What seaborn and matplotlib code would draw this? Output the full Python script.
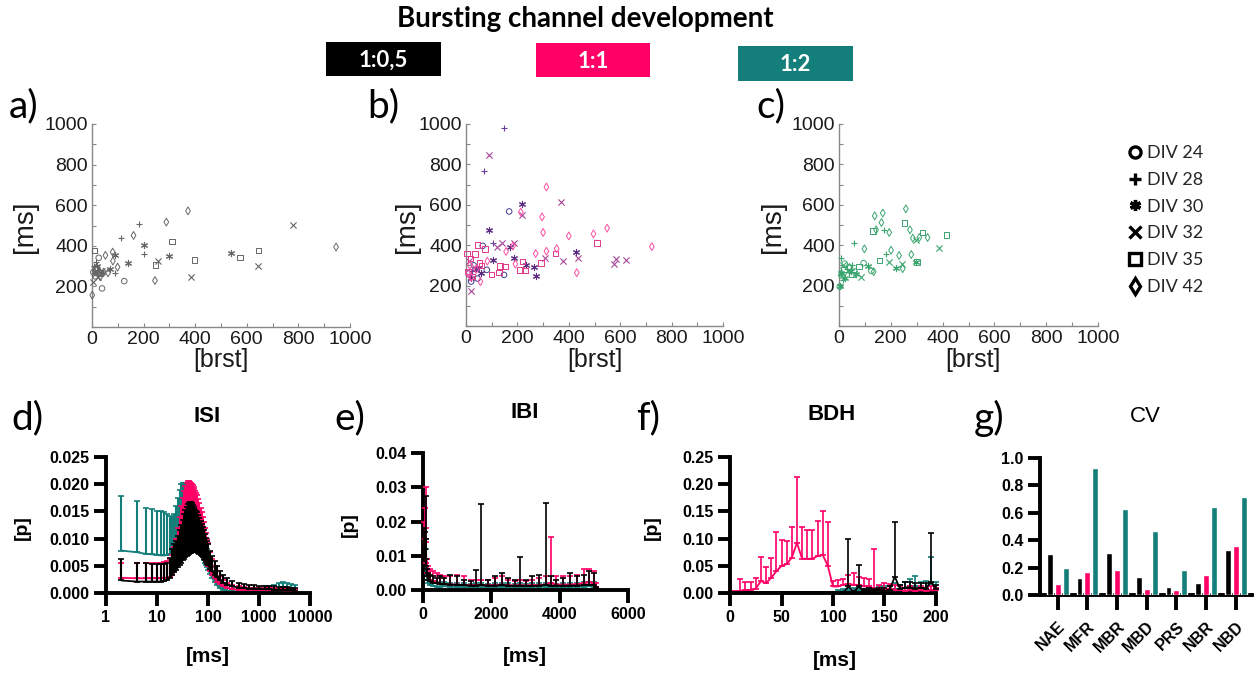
import numpy as np
import pandas as pd
import matplotlib
matplotlib.use("Agg")
import matplotlib.pyplot as plt
import seaborn as sns
from matplotlib.lines import Line2D
from matplotlib.patches import Rectangle
from matplotlib.ticker import MultipleLocator, NullLocator

# ------------------------------------------------------------------ data
div_labels = ["DIV 24", "DIV 28", "DIV 30", "DIV 32", "DIV 35", "DIV 42"]
ratios = ["1:0,5", "1:1", "1:2"]

# panel a (1:0,5) burst count vs burst duration
a24_x = [26, 39, 125, 5, 12, 18, 30]
a24_y = [341, 190, 226, 270, 250, 290, 262]
a28_x = [181, 112, 200, 90, 8, 15, 22]
a28_y = [507, 440, 362, 267, 300, 320, 280]
a30_x = [203, 90, 68, 139, 297, 539, 10, 20, 35]
a30_y = [404, 357, 288, 316, 351, 366, 270, 300, 268]
a32_x = [778, 643, 383, 255, 5, 12, 25, 40]
a32_y = [502, 300, 244, 323, 220, 260, 245, 275]
a35_x = [10, 311, 397, 574, 645, 246, 30, 15]
a35_y = [377, 422, 331, 343, 377, 305, 265, 285]
a42_x = [372, 288, 161, 52, 80, 81, 99, 62, 244, 946, 1, 32, 45]
a42_y = [572, 517, 451, 353, 369, 325, 295, 267, 229, 394, 157, 247, 270]

# panel b (1:1)
b24_x = [168, 65, 148, 81, 30, 45, 20, 10]
b24_y = [567, 397, 253, 278, 300, 235, 220, 260]
b28_x = [149, 70, 106, 50, 25, 12]
b28_y = [980, 765, 413, 290, 270, 250]
b30_x = [218, 88, 271, 265, 234, 427, 171, 187, 106, 40, 60, 20]
b30_y = [603, 476, 250, 291, 304, 364, 393, 336, 327, 280, 260, 240]
b32_x = [90, 371, 218, 379, 434, 308, 584, 574, 623, 139, 186, 21, 119, 30, 10]
b32_y = [845, 613, 550, 324, 336, 336, 331, 307, 326, 410, 413, 175, 393, 290, 320]
b35_x = [44, 73, 3, 35, 510, 349, 292, 219, 229, 211, 132, 151, 52, 18, 100, 129, 8, 25, 60]
b35_y = [402, 380, 360, 357, 410, 359, 311, 319, 274, 278, 298, 294, 311, 334, 255, 264, 269, 245, 300]
b42_x = [313, 296, 213, 300, 400, 496, 549, 723, 353, 313, 271, 431, 183, 192, 156, 56, 83, 8, 20, 40, 15]
b42_y = [688, 540, 564, 463, 446, 456, 484, 393, 383, 370, 359, 264, 397, 307, 369, 220, 321, 261, 240, 280, 300]

# panel c (1:2)
c24_x = [95, 125, 22, 3, 40, 60, 10]
c24_y = [311, 273, 309, 195, 290, 270, 250]
c28_x = [59, 175, 183, 6, 30, 15, 50]
c28_y = [413, 476, 354, 336, 280, 230, 300]
c30_x = [219, 297, 67, 112, 8, 25, 45, 3]
c30_y = [286, 317, 258, 298, 260, 240, 270, 200]
c32_x = [385, 297, 243, 194, 85, 35, 15]
c32_y = [388, 426, 307, 316, 241, 270, 300]
c35_x = [253, 323, 415, 132, 157, 77, 302, 20, 50]
c35_y = [511, 463, 450, 469, 324, 294, 317, 280, 255]
c42_x = [138, 169, 164, 258, 274, 310, 285, 342, 194, 98, 201, 232, 279, 246, 134, 143, 10, 40]
c42_y = [545, 559, 512, 580, 476, 438, 435, 438, 463, 382, 375, 349, 354, 284, 269, 476, 260, 290]

# panel d: ISI histogram (mean and upper end of error bar)
isi_x = [2, 4, 6, 8, 10, 12, 14, 16, 18, 20,
         22, 24, 26, 28, 30, 32, 34, 36, 38, 40, 42, 44, 46, 48, 50, 52, 54, 56, 58, 60,
         64, 68, 72, 76, 80, 84, 88, 92, 96, 100,
         110, 120, 135, 150, 170, 200, 240, 300, 400, 500, 650, 800, 1000, 1300, 1600,
         2000, 2500, 3000, 3600, 4200, 5000]
isi_teal_mean = [.0078, .0075, .0072, .0071, .0070, .0069, .0069, .0070, .0072, .0076,
                 .0082, .0088, .0095, .0102, .0108, .0113, .0117, .0120, .0122, .0123, .0123, .0122, .0120, .0118, .0115, .0112, .0108, .0104, .0100, .0096,
                 .0090, .0084, .0078, .0072, .0066, .0061, .0056, .0051, .0047, .0043,
                 .0035, .0028, .0020, .0014, .0009, .0006, .0004, .0003, .0003, .0003, .0004, .0004, .0005, .0005, .0006,
                 .0007, .0009, .0010, .0010, .0009, .0007]
isi_teal_upper = [.0178, .0170, .0157, .0155, .0151, .0150, .0149, .0146, .0142, .0140,
                  .0145, .0160, .0175, .0190, .0200, .0203, .0203, .0202, .0201, .0200, .0198, .0196, .0193, .0190, .0187, .0183, .0179, .0175, .0170, .0165,
                  .0155, .0145, .0135, .0125, .0115, .0105, .0095, .0087, .0080, .0073,
                  .0060, .0048, .0036, .0026, .0018, .0012, .0009, .0008, .0008, .0009, .0010, .0010, .0011, .0012, .0013,
                  .0015, .0018, .0020, .0019, .0017, .0014]
isi_pink_mean = [.0028, .0027, .0027, .0027, .0027, .0027, .0028, .0028, .0030, .0034,
                 .0040, .0047, .0055, .0063, .0070, .0077, .0084, .0090, .0096, .0101, .0105, .0108, .0110, .0111, .0112, .0112, .0111, .0110, .0108, .0106,
                 .0101, .0096, .0090, .0084, .0078, .0072, .0066, .0060, .0055, .0050,
                 .0041, .0034, .0027, .0021, .0016, .0012, .0009, .0007, .0006, .0006, .0006, .0006, .0006, .0006, .0006,
                 .0006, .0006, .0005, .0005, .0005, .0004]
isi_pink_upper = [.0055, .0055, .0056, .0056, .0056, .0056, .0057, .0058, .0062, .0070,
                  .0085, .0100, .0120, .0140, .0160, .0175, .0188, .0197, .0203, .0205, .0205, .0204, .0202, .0200, .0198, .0195, .0192, .0188, .0184, .0180,
                  .0172, .0165, .0157, .0148, .0140, .0130, .0120, .0110, .0100, .0092,
                  .0075, .0062, .0050, .0040, .0031, .0024, .0019, .0015, .0012, .0011, .0010, .0010, .0010, .0010, .0010,
                  .0010, .0010, .0009, .0009, .0009, .0008]
isi_black_mean = [.0023, .0021, .0021, .0021, .0021, .0021, .0022, .0024, .0028, .0033,
                  .0038, .0043, .0048, .0052, .0056, .0060, .0063, .0066, .0068, .0070, .0072, .0073, .0074, .0075, .0076, .0076, .0076, .0076, .0075, .0075,
                  .0074, .0072, .0070, .0068, .0066, .0063, .0060, .0057, .0054, .0051,
                  .0045, .0040, .0034, .0029, .0024, .0019, .0015, .0012, .0010, .0009, .0008, .0008, .0008, .0007, .0007,
                  .0006, .0006, .0006, .0005, .0005, .0004]
isi_black_upper = [.0063, .0055, .0055, .0054, .0054, .0054, .0054, .0056, .0065, .0080,
                   .0090, .0095, .0105, .0115, .0125, .0135, .0145, .0152, .0158, .0163, .0166, .0168, .0167, .0165, .0162, .0158, .0155, .0152, .0150, .0148,
                   .0143, .0138, .0133, .0127, .0121, .0115, .0108, .0102, .0096, .0090,
                   .0078, .0068, .0058, .0049, .0041, .0034, .0028, .0022, .0018, .0016, .0015, .0014, .0013, .0013, .0012,
                   .0012, .0011, .0011, .0011, .0010, .0009]

# panel e: IBI histogram
ibi_x = [25, 50, 75, 100, 125, 150, 200, 300, 400, 500, 600, 800, 1000, 1200, 1400,
         1560, 1700, 1900, 2100, 2300, 2500, 2700, 2830, 3000, 3200, 3400, 3600, 3750, 3900,
         4100, 4300, 4500, 4700, 4850, 5000, 5070]
ibi_teal_mean = [.006, .008, .006, .004, .003, .002, .0015, .0012, .0010, .0010, .0011, .0010, .0009, .0009, .0008,
                 .0009, .0009, .0008, .0009, .0010, .0009, .0008, .0009, .0008, .0009, .0009, .0010, .0009, .0008,
                 .0009, .0009, .0010, .0010, .0011, .0010, .0004]
ibi_teal_upper = [.012, .015, .012, .008, .006, .004, .003, .0025, .0022, .0020, .0022, .0020, .0019, .0020, .0018,
                  .0019, .0020, .0018, .0019, .0021, .0020, .0018, .0019, .0018, .0020, .0019, .0021, .0020, .0018,
                  .0019, .0020, .0021, .0022, .0024, .0022, .0010]
ibi_pink_mean = [.010, .015, .018, .008, .005, .004, .003, .0025, .002, .0018, .0017, .0016, .0016, .0015, .0014,
                 .0014, .0014, .0014, .0015, .0016, .0014, .0013, .0014, .0013, .0014, .0015, .0016, .0020, .0016,
                 .0016, .0016, .0017, .0020, .0022, .0020, .0008]
ibi_pink_upper = [.020, .024, .030, .014, .009, .007, .006, .0055, .005, .0045, .004, .004, .0045, .004, .003,
                  .003, .003, .003, .0035, .004, .003, .0025, .003, .0025, .003, .0035, .004, .0155, .004,
                  .004, .004, .0045, .006, .006, .0055, .002]
ibi_black_mean = [.010, .012, .009, .007, .004, .003, .0025, .002, .002, .0018, .0018, .0016, .0015, .0014, .0013,
                  .0013, .0015, .0013, .0013, .0014, .0013, .0012, .0013, .0012, .0012, .0013, .0015, .0013, .0013,
                  .0012, .0013, .0013, .0014, .0015, .0014, .0005]
ibi_black_upper = [.018, .017, .015, .0275, .006, .005, .0045, .004, .0035, .004, .0035, .0045, .004, .003, .0025,
                   .0057, .0251, .003, .004, .005, .0035, .003, .0097, .003, .004, .0045, .0255, .004, .003,
                   .0035, .005, .004, .0045, .0055, .005, .001]

# panel f: BDH
bdh_x = [5, 10, 15, 20, 25, 30, 35, 40, 45, 50, 55, 60, 65, 70, 75, 80, 85, 90, 95, 100,
         105, 110, 115, 120, 125, 130, 135, 140, 145, 150, 155, 160, 165, 170, 175, 180, 185, 190, 195, 200]
bdh_pink_mean = [.002, .004, .005, .006, .008, .022, .018, .028, .040, .050,
                 .053, .065, .092, .063, .063, .063, .068, .070, .050, .012,
                 .012, .015, .017, .015, .015, .012, .012, .008, .010, .008,
                 .008, .005, .006, .004, .005, .004, .005, .004, .005, .005]
bdh_pink_upper = [.003, .025, .020, .020, .028, .067, .047, .065, .112, .097,
                  .095, .122, .213, .122, .115, .115, .133, .151, .130, .022,
                  .023, .025, .034, .036, .030, .028, .025, .080, .015, .018,
                  .017, .015, .012, .010, .012, .010, .012, .010, .012, .010]
bdh_black_mean = [.0005, .0005, .0005, .0005, .0005, .0005, .0005, .0005, .0005, .0005,
                  .0005, .0005, .0005, .0005, .0005, .0005, .0005, .0005, .0005, .0005,
                  .0005, .0005, .012, .002, .012, .003, .005, .004, .006, .004,
                  .006, .030, .008, .010, .010, .008, .010, .008, .020, .008]
bdh_black_upper = [.001, .001, .001, .001, .001, .001, .001, .001, .001, .001,
                   .001, .001, .001, .001, .001, .001, .001, .001, .001, .001,
                   .001, .001, .100, .004, .052, .008, .010, .008, .010, .010,
                   .012, .130, .015, .020, .020, .018, .018, .018, .110, .015]
bdh_teal_mean = [.0005, .0005, .0005, .0005, .0005, .0005, .0005, .0005, .0005, .0005,
                 .0005, .0005, .0005, .0005, .0005, .0005, .0005, .0005, .0005, .0005,
                 .002, .003, .003, .004, .005, .004, .004, .005, .006, .005,
                 .006, .008, .007, .010, .012, .012, .010, .010, .018, .010]
bdh_teal_upper = [.001, .001, .001, .001, .001, .001, .001, .001, .001, .001,
                  .001, .001, .001, .001, .001, .001, .001, .001, .001, .001,
                  .006, .008, .008, .010, .010, .008, .010, .010, .012, .012,
                  .012, .018, .015, .020, .025, .032, .020, .022, .066, .020]

# panel g: coefficient of variation
cv_metrics = ["NAE", "MFR", "MBR", "MBD", "PRS", "NBR", "NBD"]
cv_105 = [0.30, 0.125, 0.31, 0.135, 0.06, 0.085, 0.325]
cv_11 = [0.08, 0.165, 0.18, 0.045, 0.035, 0.145, 0.36]
cv_12 = [0.195, 0.93, 0.63, 0.47, 0.185, 0.64, 0.715]

# ------------------------------------------------------------------ style
BLACK, PINK, TEAL = "#000000", "#FF0066", "#137E7A"
W, H = 1257, 675
sns.set_theme(style="white")
plt.rcParams["font.family"] = ["Liberation Sans", "DejaVu Sans"]
CAL = ["Lato", "DejaVu Sans"]

fig = plt.figure(figsize=(W / 100, H / 100), dpi=100)


def px_rect(r):
    l, t, rr, b = r
    return [l / W, 1 - b / H, (rr - l) / W, (b - t) / H]


def ftext(x, y, s, **kw):
    fig.text(x / W, 1 - y / H, s, **kw)


def place_label(axis, r, xpx, ypx):
    l, t, rr, b = r
    axis.set_label_coords((xpx - l) / (rr - l), (b - ypx) / (b - t))
    axis.label.set_verticalalignment("center")
    axis.label.set_horizontalalignment("center")


# ------------------------------------------------------------------ header
ftext(585, 19, "Bursting channel development", family=CAL,
      weight="bold", size=20, ha="center", va="center", color="black")
for (l, t, r, b), col, lab in zip([(326, 42, 441, 76), (536, 43, 650, 77), (738, 46, 853, 81)],
                                  [BLACK, PINK, TEAL], ratios):
    fig.add_artist(Rectangle((l / W, 1 - b / H), (r - l) / W, (b - t) / H,
                             transform=fig.transFigure, facecolor=col, edgecolor="none"))
    ftext((l + r) / 2, (t + b) / 2 + 1, lab, family=CAL, weight="bold",
          size=16, color="white", ha="center", va="center")

# ------------------------------------------------------------------ scatter panels
marker_map = {"DIV 24": "o", "DIV 28": "+", "DIV 30": (6, 2, 0),
              "DIV 32": "x", "DIV 35": "s", "DIV 42": "d"}
open_set = {"DIV 24", "DIV 35", "DIV 42"}

scatter_specs = [
    ("a)", (92, 124, 350, 327), (9, 106), (25, 227), (221, 360),
     [(a24_x, a24_y), (a28_x, a28_y), (a30_x, a30_y), (a32_x, a32_y), (a35_x, a35_y), (a42_x, a42_y)],
     ["#666666"] * 6),
    ("b)", (466, 124, 723, 326), (367, 106), (407, 227), (595, 360),
     [(b24_x, b24_y), (b28_x, b28_y), (b30_x, b30_y), (b32_x, b32_y), (b35_x, b35_y), (b42_x, b42_y)],
     ["#3f3f8f", "#6b3fa0", "#5a2d82", "#a8469b", "#e2388a", "#ff4fa3"]),
    ("c)", (839, 124, 1098, 326), (756, 106), (773, 227), (973, 360),
     [(c24_x, c24_y), (c28_x, c28_y), (c30_x, c30_y), (c32_x, c32_y), (c35_x, c35_y), (c42_x, c42_y)],
     ["#3aa56f"] * 6),
]

for letter, rect, lpos, ylpos, xlpos, groups, cols in scatter_specs:
    ax = fig.add_axes(px_rect(rect))
    for lab, (xs, ys), c in zip(div_labels, groups, cols):
        m = marker_map[lab]
        if lab in open_set:
            sns.scatterplot(x=xs, y=ys, marker=m, s=16, color=c, facecolor="none",
                            edgecolor=c, linewidth=0.7, ax=ax, clip_on=False, zorder=3)
        else:
            sns.scatterplot(x=xs, y=ys, marker=m, s=20, color=c, linewidth=0.8,
                            ax=ax, clip_on=False, zorder=3)
    ax.set_xlim(0, 1000)
    ax.set_ylim(0, 1000)
    ax.set_xticks([0, 200, 400, 600, 800, 1000], labels=["0", "200", "400", "600", "800", "1000"])
    ax.set_yticks([200, 400, 600, 800, 1000], labels=["200", "400", "600", "800", "1000"])
    ax.xaxis.set_minor_locator(MultipleLocator(100))
    ax.yaxis.set_minor_locator(MultipleLocator(100))
    ax.tick_params(which="both", direction="in", length=3, width=0.8, color="#888888",
                   labelsize=14, labelcolor="#1a1a1a", pad=3, bottom=True, left=True)
    sns.despine(ax=ax)
    for s in ["left", "bottom"]:
        ax.spines[s].set_color("#888888")
        ax.spines[s].set_linewidth(1.0)
    ax.set_xlabel("[brst]", fontsize=18, color="#1a1a1a")
    ax.set_ylabel("[ms]", fontsize=20, color="#1a1a1a")
    place_label(ax.xaxis, rect, *xlpos)
    place_label(ax.yaxis, rect, *ylpos)
    ax.grid(False)
    ftext(lpos[0], lpos[1], letter, family=CAL, size=28,
          ha="left", va="center", color="black")

# legend for DIV markers
handles = [Line2D([], [], marker=marker_map[k], linestyle="none", color="black",
                  markerfacecolor="none", markersize=8, markeredgewidth=2.4) for k in div_labels]
fig.legend(handles, div_labels, loc="upper left", bbox_to_anchor=(1126 / W, 1 - 145 / H),
           frameon=False, prop={"family": CAL, "size": 13},
           handletextpad=0.15, labelspacing=0.6, handlelength=1.0, borderaxespad=0, borderpad=0)

# ------------------------------------------------------------------ bottom panels


def prism_axes(ax):
    sns.despine(ax=ax)
    for s in ["left", "bottom"]:
        ax.spines[s].set_linewidth(2.8)
        ax.spines[s].set_color("black")
    ax.tick_params(which="major", direction="out", length=9, width=2.8, color="black",
                   labelsize=11.5, labelcolor="black", pad=3, bottom=True, left=True)
    ax.grid(False)


def hist_series(ax, x, mean, upper, color, z, lw=1.2):
    x = np.asarray(x, float)
    mean = np.asarray(mean, float)
    upper = np.asarray(upper, float)
    sns.lineplot(x=x, y=mean, color=color, linewidth=1.3, ax=ax, clip_on=False, zorder=z)
    ax.errorbar(x, mean, yerr=[np.zeros_like(mean), upper - mean], fmt="none",
                ecolor=color, elinewidth=lw, capsize=2.5, capthick=1.2, zorder=z, clip_on=False)


bottom_specs = [
    ("d)", "ISI", (106, 457, 310, 593), (11, 418), (207, 417), (22, 528), (208, 657)),
    ("e)", "IBI", (423, 453, 628, 590), (334, 418), (525, 412), (349, 525), (525, 657)),
    ("f)", "BDH", (730, 457, 936, 593), (636, 418), (832, 415), (652, 528), (835, 660)),
    ("g)", "CV", (1040, 458, 1252, 595), (974, 418), (1145, 417), None, None),
]

axes_bottom = {}
for letter, title, rect, lpos, tpos, ylpos, xlpos in bottom_specs:
    ax = fig.add_axes(px_rect(rect))
    axes_bottom[letter] = ax
    ftext(lpos[0], lpos[1], letter, family=CAL, size=28,
          ha="left", va="center", color="black")
    ftext(tpos[0], tpos[1], title, size=16, weight="bold" if title != "CV" else "normal",
          ha="center", va="center", color="black")

# d) ISI
ax = axes_bottom["d)"]
ax.set_xscale("log")
hist_series(ax, isi_x, isi_teal_mean, isi_teal_upper, TEAL, 2, lw=1.5)
hist_series(ax, isi_x, isi_pink_mean, isi_pink_upper, PINK, 3, lw=1.5)
hist_series(ax, isi_x, isi_black_mean, isi_black_upper, BLACK, 4, lw=1.5)
ax.set_xlim(1, 10000)
ax.set_ylim(0, 0.025)
ax.set_xticks([1, 10, 100, 1000, 10000], labels=["1", "10", "100", "1000", "10000"], fontweight="bold")
ax.xaxis.set_minor_locator(NullLocator())
ax.set_yticks([0, 0.005, 0.010, 0.015, 0.020, 0.025],
              labels=["0.000", "0.005", "0.010", "0.015", "0.020", "0.025"], fontweight="bold")
prism_axes(ax)

# e) IBI
ax = axes_bottom["e)"]
hist_series(ax, ibi_x, ibi_teal_mean, ibi_teal_upper, TEAL, 2)
hist_series(ax, ibi_x, ibi_pink_mean, ibi_pink_upper, PINK, 3)
hist_series(ax, ibi_x, ibi_black_mean, ibi_black_upper, BLACK, 4)
ax.set_xlim(0, 6000)
ax.set_ylim(0, 0.04)
ax.set_xticks([0, 2000, 4000, 6000], labels=["0", "2000", "4000", "6000"], fontweight="bold")
ax.set_yticks([0, 0.01, 0.02, 0.03, 0.04], labels=["0.00", "0.01", "0.02", "0.03", "0.04"], fontweight="bold")
prism_axes(ax)

# f) BDH
ax = axes_bottom["f)"]
hist_series(ax, bdh_x, bdh_teal_mean, bdh_teal_upper, TEAL, 2)
hist_series(ax, bdh_x, bdh_pink_mean, bdh_pink_upper, PINK, 3)
hist_series(ax, bdh_x, bdh_black_mean, bdh_black_upper, BLACK, 4)
ax.set_xlim(0, 200)
ax.set_ylim(0, 0.25)
ax.set_xticks([0, 50, 100, 150, 200], labels=["0", "50", "100", "150", "200"], fontweight="bold")
ax.set_yticks([0, 0.05, 0.10, 0.15, 0.20, 0.25],
              labels=["0.00", "0.05", "0.10", "0.15", "0.20", "0.25"], fontweight="bold")
prism_axes(ax)

for letter, title, rect, lpos, tpos, ylpos, xlpos in bottom_specs[:3]:
    ax = axes_bottom[letter]
    ax.set_xlabel("[ms]", fontsize=15, fontweight="bold", color="black")
    ax.set_ylabel("[p]", fontsize=14, fontweight="bold", color="black")
    place_label(ax.xaxis, rect, *xlpos)
    place_label(ax.yaxis, rect, *ylpos)

# g) CV bars
ax = axes_bottom["g)"]
cv_df = pd.DataFrame({
    "metric": cv_metrics * 3,
    "cv": cv_105 + cv_11 + cv_12,
    "ratio": [ratios[0]] * 7 + [ratios[1]] * 7 + [ratios[2]] * 7,
})
sns.barplot(data=cv_df, x="metric", y="cv", hue="ratio", hue_order=ratios,
            palette=[BLACK, PINK, TEAL], width=0.8, gap=0.25, saturation=1,
            legend=False, ax=ax, zorder=3)
ax.set_xlim(-0.6, 6.55)
ax.set_ylim(0, 1.0)
ax.set_yticks([0, 0.2, 0.4, 0.6, 0.8, 1.0], labels=["0.0", "0.2", "0.4", "0.6", "0.8", "1.0"], fontweight="bold")
ax.set_xticks(range(len(cv_metrics)), labels=cv_metrics, fontweight="bold", rotation=45,
              ha="right", rotation_mode="anchor")
ax.set_xlabel("")
ax.set_ylabel("")
prism_axes(ax)
ax.tick_params(axis="x", length=11, pad=6)

fig.savefig("out.png", dpi=100)
